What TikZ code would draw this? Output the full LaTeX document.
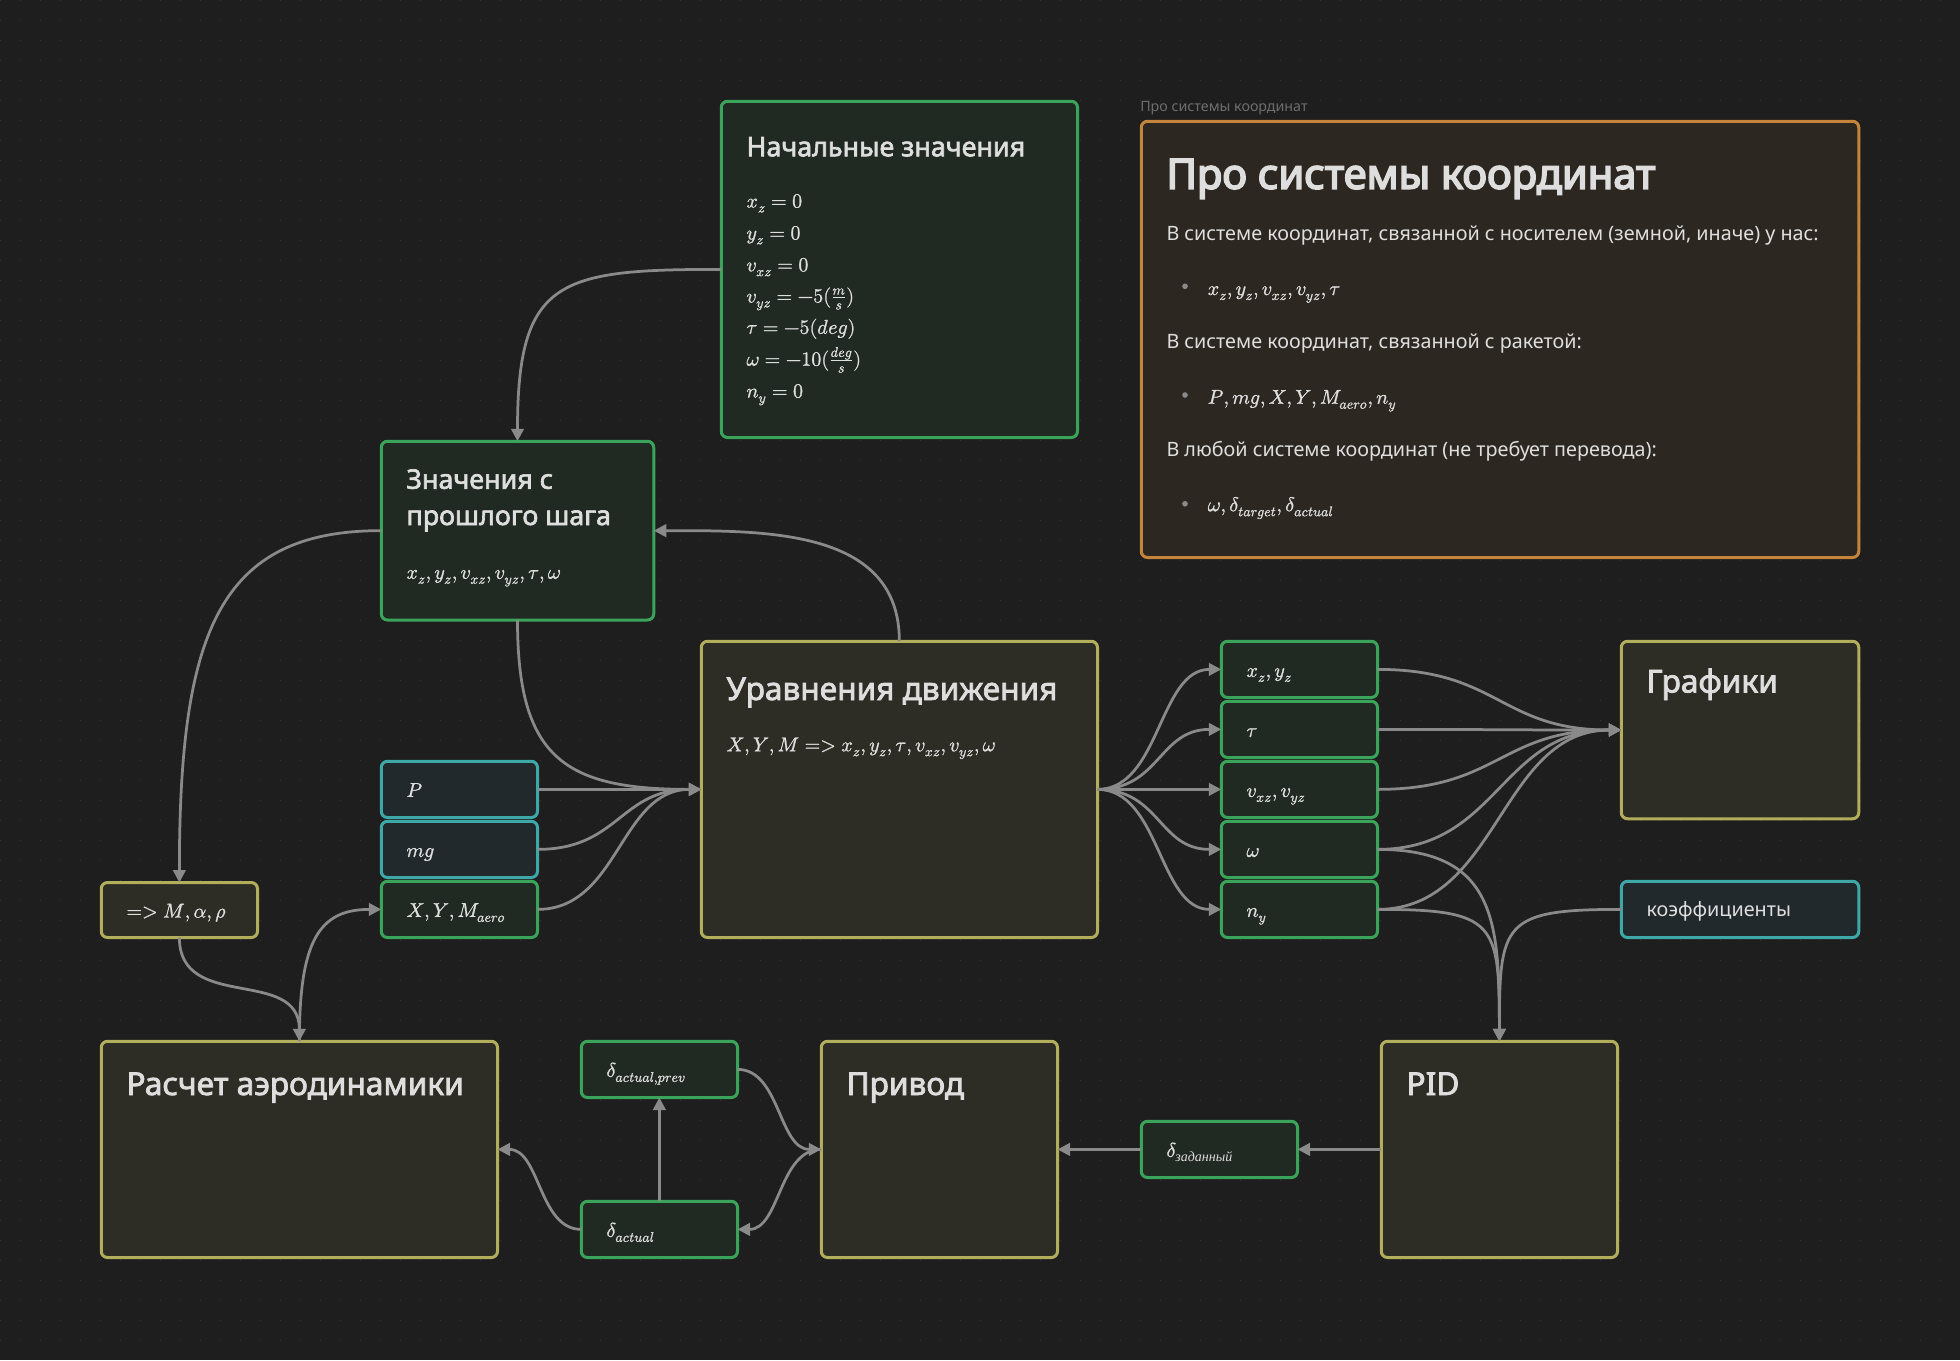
\documentclass[tikz,border=0pt]{standalone}
\usepackage{amsmath}
\usepackage{fontspec}
\usepackage{unicode-math}
\setmainfont{Noto Sans}
\setmathfont{Latin Modern Math}[FakeBold=1.2]
\newfontfamily\ttlfont[FakeBold=2.4]{Noto Sans}
\newfontfamily\bigfont[FakeBold=4]{Noto Sans}
\newfontfamily\cyrit{Liberation Serif}
\usetikzlibrary{arrows.meta,calc}
\definecolor{bgc}{HTML}{1E1E1E}
\definecolor{dotc}{HTML}{343434}
\definecolor{txtc}{HTML}{DEDEDE}
\definecolor{grpc}{HTML}{6E6E6E}
\definecolor{edgec}{HTML}{8A8A8A}
\definecolor{gline}{HTML}{3AA45A}
\definecolor{gfill}{HTML}{212923}
\definecolor{yline}{HTML}{B2AE5C}
\definecolor{yfill}{HTML}{2D2C25}
\definecolor{cline}{HTML}{3EA7A8}
\definecolor{cfill}{HTML}{21292C}
\definecolor{oline}{HTML}{C4843C}
\definecolor{ofill}{HTML}{2D2721}
\definecolor{bulc}{HTML}{8A8A8A}
\tikzset{
  cbase/.style={draw, line width=2.4pt, rounded corners=5pt, inner sep=0pt, outer sep=0pt, anchor=north west},
  gbox/.style={cbase, draw=gline, fill=gfill},
  ybox/.style={cbase, draw=yline, fill=yfill},
  cbox/.style={cbase, draw=cline, fill=cfill},
  obox/.style={cbase, draw=oline, fill=ofill},
  sz/.style n args={2}{minimum width=#1pt, minimum height=#2pt},
  ttl/.style={anchor=base west, inner sep=0pt, text=txtc, font=\ttlfont\fontsize{21.5}{29}\selectfont, align=left},
  ttlb/.style={anchor=base west, inner sep=0pt, text=txtc, font=\ttlfont\fontsize{25.3}{30}\selectfont},
  bd/.style={anchor=base west, inner sep=0pt, text=txtc, font=\fontsize{15.8}{19}\selectfont},
  mth/.style={anchor=base west, inner sep=0pt, text=txtc, font=\fontsize{16}{19}\selectfont},
  bul/.style={circle, fill=bulc, inner sep=0pt, minimum size=4.5pt},
  conn/.style={draw=edgec, line width=2.2pt},
  arr/.style={conn, -{Triangle[length=10pt,width=10pt]}},
}
\begin{document}
\begin{tikzpicture}[x=1pt,y=-1pt]
\fill[bgc] (0,0) rectangle (1568,1088);
\useasboundingbox (0,0) rectangle (1568,1088);
\foreach \yy in {0.5,16.5,...,1088} \draw[dotc, line width=1.3pt, dash pattern=on 1.3pt off 14.7pt] (-0.15,\yy) -- (1568,\yy);

% boxes
\node[gbox, sz={285}{269}] (init) at (577,81) {};
\node[anchor=base west, inner sep=0pt, text=grpc, font=\fontsize{11.4}{13}\selectfont] (grplbl) at (912,89) {Про системы координат};
\node[obox, sz={574}{349}] (coord) at (913,97) {};
\node[gbox, sz={218}{143}] (prev) at (305,353) {};
\node[ybox, sz={317}{237}] (eq) at (561,513) {};
\node[cbox, sz={125}{45}] (P) at (305,609) {};
\node[cbox, sz={125}{45}] (mg) at (305,657) {};
\node[gbox, sz={125}{45}] (xym) at (305,705) {};
\node[ybox, sz={125}{44}] (mar) at (81,706) {};
\node[gbox, sz={125}{45}] (oxy) at (977,513) {};
\node[gbox, sz={125}{45}] (otau) at (977,561) {};
\node[gbox, sz={125}{45}] (ov) at (977,609) {};
\node[gbox, sz={125}{45}] (ow) at (977,657) {};
\node[gbox, sz={125}{45}] (ony) at (977,705) {};
\node[ybox, sz={190}{142}] (graf) at (1297,513) {};
\node[cbox, sz={190}{45}] (koef) at (1297,705) {};
\node[ybox, sz={317}{173}] (aero) at (81,833) {};
\node[gbox, sz={125}{45}] (dprev) at (465,833) {};
\node[gbox, sz={125}{45}] (dact) at (465,961) {};
\node[ybox, sz={189}{173}] (priv) at (657,833) {};
\node[gbox, sz={125}{45}] (dzad) at (913,897) {};
\node[ybox, sz={189}{173}] (pid) at (1105,833) {};

% texts: initial values
\node[ttl] (t-init) at ($(init.north west)+(20,44)$) {Начальные значения};
\node[mth] (i1) at ($(init.north west)+(20,85)$) {$x_z = 0$};
\node[mth] (i2) at ($(init.north west)+(20,110.5)$) {$y_z = 0$};
\node[mth] (i3) at ($(init.north west)+(20,136)$) {$v_{xz} = 0$};
\node[mth] (i4) at ($(init.north west)+(20,161)$) {$v_{yz} = -5(\frac{m}{s})$};
\node[mth] (i5) at ($(init.north west)+(20,186)$) {$\tau = -5(deg)$};
\node[mth] (i6) at ($(init.north west)+(20,211.5)$) {$\omega = -10(\frac{deg}{s})$};
\node[mth] (i7) at ($(init.north west)+(20,237)$) {$n_y = 0$};

% coordinate systems note
\node[anchor=base west, inner sep=0pt, text=txtc, font=\bigfont\fontsize{33.3}{38}\selectfont] (t-coord) at ($(coord.north west)+(20,54)$) {Про системы координат};
\node[bd] (c1) at ($(coord.north west)+(20,95)$) {В системе координат, связанной с носителем (земной, иначе) у нас:};
\node[bul] (b1) at ($(coord.north west)+(35,132)$) {};
\node[mth] (c2) at ($(coord.north west)+(53,139)$) {$x_z, y_z, v_{xz}, v_{yz}, \tau$};
\node[bd] (c3) at ($(coord.north west)+(20,182)$) {В системе координат, связанной с ракетой:};
\node[bul] (b2) at ($(coord.north west)+(35,219)$) {};
\node[mth] (c4) at ($(coord.north west)+(53,226)$) {$P, mg, X, Y, M_{aero}, n_y$};
\node[bd] (c5) at ($(coord.north west)+(20,268)$) {В любой системе координат (не требует перевода):};
\node[bul] (b3) at ($(coord.north west)+(35,306)$) {};
\node[mth] (c6) at ($(coord.north west)+(53,312)$) {$\omega, \delta_{target}, \delta_{actual}$};

% previous step
\node[ttl] (t-prev) at ($(prev.north west)+(20,67)$) {Значения с\\прошлого шага};
\node[mth] (m-prev) at ($(prev.north west)+(20,110)$) {$x_z, y_z, v_{xz}, v_{yz}, \tau, \omega$};

% equations of motion
\node[ttlb] (t-eq) at ($(eq.north west)+(20,47)$) {Уравнения движения};
\node[mth] (m-eq) at ($(eq.north west)+(20,88)$) {$X, Y, M => x_z, y_z, \tau, v_{xz}, v_{yz}, \omega$};

% small nodes
\node[mth] (m-P) at ($(P.west)+(20,6)$) {$P$};
\node[mth] (m-mg) at ($(mg.west)+(20,6)$) {$mg$};
\node[mth] (m-xym) at ($(xym.west)+(20,6)$) {$X, Y, M_{aero}$};
\node[mth] (m-mar) at ($(mar.west)+(20,6)$) {$=> M, \alpha, \rho$};
\node[mth] (m-oxy) at ($(oxy.west)+(20,6)$) {$x_z, y_z$};
\node[mth] (m-otau) at ($(otau.west)+(20,6)$) {$\tau$};
\node[mth] (m-ov) at ($(ov.west)+(20,6)$) {$v_{xz}, v_{yz}$};
\node[mth] (m-ow) at ($(ow.west)+(20,6)$) {$\omega$};
\node[mth] (m-ony) at ($(ony.west)+(20,6)$) {$n_y$};
\node[ttlb] (t-graf) at ($(graf.north west)+(20,41)$) {Графики};
\node[bd] (m-koef) at ($(koef.west)+(20,6)$) {коэффициенты};
\node[ttlb] (t-aero) at ($(aero.north west)+(20,43)$) {Расчет аэродинамики};
\node[mth] (m-dprev) at ($(dprev.west)+(20,6)$) {$\delta_{actual,prev}$};
\node[mth] (m-dact) at ($(dact.west)+(20,6)$) {$\delta_{actual}$};
\node[ttlb] (t-priv) at ($(priv.north west)+(20,43)$) {Привод};
\node[mth] (m-dzad) at ($(dzad.west)+(20,6)$) {$\delta_{\text{\cyrit\itshape заданный}}$};
\node[ttlb] (t-pid) at ($(pid.north west)+(20,43)$) {PID};

% connectors
\draw[arr] (init.west) .. controls ($(init.west)+(-130,0)$) and ($(prev.north)+(0,-130)$) .. (prev.north);
\draw[arr] (prev.west) .. controls ($(prev.west)+(-130,0)$) and ($(mar.north)+(0,-200)$) .. (mar.north);
\draw[arr] (prev.south) .. controls ($(prev.south)+(0,110)$) and ($(eq.west)+(-110,0)$) .. (eq.west);
\draw[arr] (eq.north) .. controls ($(eq.north)+(0,-90)$) and ($(prev.east)+(90,0)$) .. (prev.east);
\draw[arr] (P.east) -- (eq.west);
\draw[arr] (mg.east) .. controls ($(mg.east)+(65,0)$) and ($(eq.west)+(-65,0)$) .. (eq.west);
\draw[arr] (xym.east) .. controls ($(xym.east)+(65,0)$) and ($(eq.west)+(-65,0)$) .. (eq.west);
\foreach \o in {oxy,otau,ov,ow,ony}{
  \draw[arr] (eq.east) .. controls ($(eq.east)+(50,0)$) and ($(\o.west)+(-50,0)$) .. (\o.west);
  \draw[arr] (\o.east) .. controls ($(\o.east)+(97,0)$) and ($(graf.west)+(-97,0)$) .. (graf.west);
}
\draw[arr] (ow.east) .. controls ($(ow.east)+(95,0)$) and ($(pid.north)+(0,-95)$) .. (pid.north);
\draw[arr] (ony.east) .. controls ($(ony.east)+(95,0)$) and ($(pid.north)+(0,-95)$) .. (pid.north);
\draw[arr] (koef.west) .. controls ($(koef.west)+(-95,0)$) and ($(pid.north)+(0,-95)$) .. (pid.north);
\draw[arr] (pid.west) -- (dzad.east);
\draw[arr] (dzad.west) -- (priv.east);
\draw[arr] (priv.west) .. controls ($(priv.west)+(-34,0)$) and ($(dact.east)+(34,0)$) .. (dact.east);
\draw[arr] (dprev.east) .. controls ($(dprev.east)+(34,0)$) and ($(priv.west)+(-34,0)$) .. (priv.west);
\draw[arr] (dact.north) -- (dprev.south);
\draw[arr] (dact.west) .. controls ($(dact.west)+(-34,0)$) and ($(aero.east)+(34,0)$) .. (aero.east);
\draw[arr] (mar.south) .. controls ($(mar.south)+(0,60)$) and ($(aero.north)+(0,-60)$) .. (aero.north);
\draw[arr] (aero.north) .. controls ($(aero.north)+(0,-80)$) and ($(xym.west)+(-50,0)$) .. (xym.west);
\end{tikzpicture}
\end{document}
